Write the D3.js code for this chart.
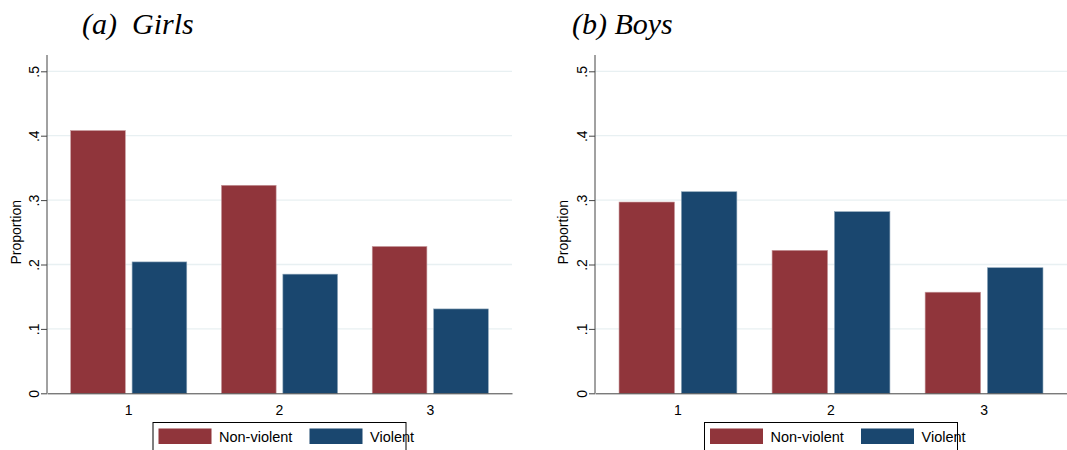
<!DOCTYPE html>
<html>
<head>
<meta charset="utf-8">
<script src="https://cdn.jsdelivr.net/npm/d3@7"></script>
<style>
  html, body { margin: 0; padding: 0; background: #fff; }
  svg { display: block; }
</style>
</head>
<body>
<svg id="chart" width="1067" height="450"></svg>
<script>
// Categories and series
const categories = ["1", "2", "3"];
const seriesNames = ["Non-violent", "Violent"];
const girlsNonViolent = [0.408, 0.323, 0.228];
const girlsViolent = [0.204, 0.185, 0.131];
const boysNonViolent = [0.297, 0.222, 0.157];
const boysViolent = [0.313, 0.282, 0.195];
const yTicks = [0, 0.1, 0.2, 0.3, 0.4, 0.5];
const yTickLabels = ["0", ".1", ".2", ".3", ".4", ".5"];
const panelTitles = ["(a)\u00a0\u00a0Girls", "(b) Boys"];

const colors = { "Non-violent": "#90353B", "Violent": "#1A476F" };
const edges = { "Non-violent": "#c79a9d", "Violent": "#8aa3b7" };

const svg = d3.select("#chart");

const panels = [
  { title: panelTitles[0], nv: girlsNonViolent, v: girlsViolent,
    x0: 47, x1: 512, titleX: 82, yLabelX: 16 },
  { title: panelTitles[1], nv: boysNonViolent, v: boysViolent,
    x0: 595, x1: 1067, titleX: 572, yLabelX: 563 }
];

const yBottom = 393.3, yTopTick = 71.3, axisTop = 55;

panels.forEach(p => {
  const g = svg.append("g");
  const y = d3.scaleLinear().domain([0, 0.5]).range([yBottom, yTopTick]);

  const xGroup = d3.scaleBand().domain(categories).range([p.x0, p.x1])
    .paddingInner(0.23).paddingOuter(0.157);
  const xSeries = d3.scaleBand().domain(seriesNames).range([0, xGroup.bandwidth()])
    .paddingInner(0.11).paddingOuter(0);

  // title
  g.append("text")
    .attr("x", p.titleX).attr("y", 34)
    .attr("font-family", "'Liberation Serif', 'Times New Roman', serif")
    .attr("font-style", "italic")
    .attr("font-size", 30)
    .attr("fill", "#000")
    .text(p.title);

  // grid lines
  g.selectAll("line.grid").data(yTicks.filter(t => t > 0)).enter()
    .append("line")
    .attr("x1", p.x0).attr("x2", p.x1)
    .attr("y1", d => y(d)).attr("y2", d => y(d))
    .attr("stroke", "#e8f0f2").attr("stroke-width", 1.3);

  // bars
  const rows = categories.map((c, i) => ({ cat: c, vals: [
    { s: "Non-violent", v: p.nv[i] }, { s: "Violent", v: p.v[i] }] }));
  const grp = g.selectAll("g.cat").data(rows).enter().append("g")
    .attr("transform", d => `translate(${xGroup(d.cat)},0)`);
  grp.selectAll("rect").data(d => d.vals).enter().append("rect")
    .attr("x", d => xSeries(d.s))
    .attr("width", xSeries.bandwidth())
    .attr("y", d => y(d.v))
    .attr("height", d => y(0) - y(d.v))
    .attr("fill", d => colors[d.s])
    .attr("stroke", d => edges[d.s]).attr("stroke-width", 0.6);

  // y axis
  const yAxis = d3.axisLeft(y).tickValues(yTicks)
    .tickFormat((d, i) => yTickLabels[i]).tickSize(6).tickSizeOuter(0);
  const ya = g.append("g").attr("transform", `translate(${p.x0},0)`).call(yAxis);
  ya.select(".domain").remove();
  ya.append("line").attr("x1", 0).attr("x2", 0).attr("y1", axisTop).attr("y2", yBottom)
    .attr("stroke", "#444").attr("stroke-width", 1);
  ya.selectAll(".tick line").attr("stroke", "#444");
  ya.selectAll(".tick text")
    .attr("font-family", "'Liberation Sans', Arial, sans-serif")
    .attr("font-size", 14).attr("fill", "#000")
    .attr("x", 0).attr("dy", 0)
    .attr("text-anchor", "middle")
    .attr("transform", "translate(-8,0) rotate(-90)");

  // x axis
  const xAxis = d3.axisBottom(xGroup).tickSize(0).tickSizeOuter(0).tickPadding(12);
  const xa = g.append("g").attr("transform", `translate(0,${yBottom})`).call(xAxis);
  xa.select(".domain").attr("stroke", "#444");
  xa.selectAll(".tick text")
    .attr("font-family", "'Liberation Sans', Arial, sans-serif")
    .attr("font-size", 14).attr("fill", "#000");

  // y axis title
  g.append("text")
    .attr("transform", `translate(${p.yLabelX + 5},${(yBottom + yTopTick) / 2}) rotate(-90)`)
    .attr("text-anchor", "middle")
    .attr("font-family", "'Liberation Sans', Arial, sans-serif")
    .attr("font-size", 14).attr("fill", "#000")
    .text("Proportion");

  // legend
  const cx = (p.x0 + p.x1) / 2;
  const lw = 253, lx = cx - lw / 2;
  const lg = g.append("g").attr("transform", `translate(${lx},422.5)`);
  lg.append("rect").attr("x", 0).attr("y", 0).attr("width", lw).attr("height", 30)
    .attr("fill", "#fff").attr("stroke", "#000").attr("stroke-width", 1);
  const itemX = [5.5, 156.5];
  seriesNames.forEach((s, i) => {
    lg.append("rect").attr("x", itemX[i]).attr("y", 6).attr("width", 53).attr("height", 15.5)
      .attr("fill", colors[s]);
    lg.append("text").attr("x", itemX[i] + 60.5).attr("y", 19)
      .attr("font-family", "'Liberation Sans', Arial, sans-serif")
      .attr("font-size", 14.5).attr("fill", "#000")
      .text(s);
  });
});
</script>
</body>
</html>
